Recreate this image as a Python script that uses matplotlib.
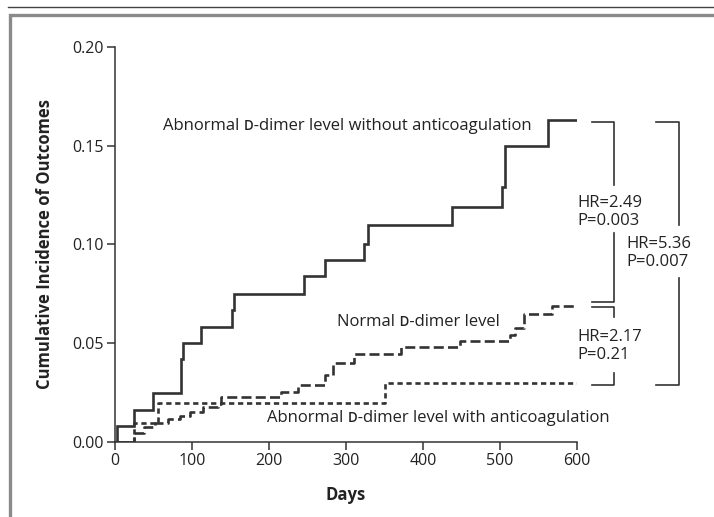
import numpy as np
import matplotlib
matplotlib.use('Agg')
import matplotlib.pyplot as plt
from matplotlib.lines import Line2D

plt.rcParams['font.family'] = ['Open Sans', 'DejaVu Sans']

# courbes (jours, incidence cumulee)
jours_sans = [0, 2, 25, 49, 86, 88, 111, 152, 154, 245, 273, 323, 328, 437, 503, 506, 562, 600]
incid_sans = [0, .008, .016, .025, .042, .050, .058, .067, .075, .084, .092, .100, .110,
              .119, .129, .150, .163, .163]

jours_normal = [0, 24, 38, 52, 69, 84, 97, 114, 134, 137, 216, 238, 273, 283, 310, 372,
                448, 513, 519, 531, 567, 600]
incid_normal = [0, .0046, .0077, .0098, .0115, .0132, .0154, .0176, .0192, .0230, .0255,
                .0288, .0340, .0398, .0445, .0480, .0510, .0540, .0575, .0650, .0688, .0688]

jours_avec = [0, 24, 56, 351, 600]
incid_avec = [0, .0098, .0196, .0300, .0300]

xticks = [0, 100, 200, 300, 400, 500, 600]
yticks = [0.00, 0.05, 0.10, 0.15, 0.20]

# crochets : (x gauche, x droite, y haut, y bas, debut trou, fin trou)
crochets = [(620, 648, 0.1621, 0.0710, 0.1300, 0.1056),
            (620, 648, 0.0685, 0.0288, 0.0634, 0.0348),
            (703, 732, 0.1621, 0.0288, 0.1098, 0.0828)]
textes_hr = [(600, 0.1165, 'HR=2.49\nP=0.003'),
             (664, 0.0957, 'HR=5.36\nP=0.007'),
             (600, 0.0487, 'HR=2.17\nP=0.21')]

gris = '#333333'
noir = '#222222'

fig = plt.figure(figsize=(7.14, 5.17), dpi=100)
ax = fig.add_axes([0.1611, 0.1451, 0.6471, 0.7646])

ax.step(jours_sans, incid_sans, where='post', color=gris, lw=1.9, solid_joinstyle='miter')
ax.step(jours_normal, incid_normal, where='post', color=gris, lw=1.9,
        linestyle=(0, (3.8, 1.6)))
ax.step(jours_avec, incid_avec, where='post', color=gris, lw=1.9,
        linestyle=(0, (2.0, 1.4)))

ax.set_xlim(0, 600)
ax.set_ylim(0, 0.20)
ax.set_xticks(xticks)
ax.set_yticks(yticks)
ax.set_yticklabels(['%.2f' % v for v in yticks])
for s in ['top', 'right']:
    ax.spines[s].set_visible(False)
for s in ['left', 'bottom']:
    ax.spines[s].set_color(gris)
    ax.spines[s].set_linewidth(1.1)
ax.tick_params(direction='out', length=6, width=1.1, color=gris, labelcolor=noir,
               labelsize=11.5, pad=2)
ax.set_xlabel('Days', fontsize=12, fontweight='bold', color=noir, labelpad=12)
ax.set_ylabel('Cumulative Incidence of Outcomes', fontsize=12, fontweight='bold',
              color=noir, labelpad=13)

ax.text(62, 0.160, 'Abnormal \u1d05-dimer level without anticoagulation', fontsize=12,
        color=noir, va='center')
ax.text(288, 0.0609, 'Normal \u1d05-dimer level', fontsize=12, color=noir, va='center')
ax.text(198, 0.012, 'Abnormal \u1d05-dimer level with anticoagulation', fontsize=12,
        color=noir, va='center', clip_on=False)

for x0, x1, yh, yb, t0, t1 in crochets:
    ax.plot([x0, x1, x1], [yh, yh, t0], color=gris, lw=1.2, clip_on=False)
    ax.plot([x1, x1, x0], [t1, yb, yb], color=gris, lw=1.2, clip_on=False)
for x, y, t in textes_hr:
    ax.text(x, y, t, fontsize=12, color=noir, va='center', linespacing=1.2,
            clip_on=False)

# cadre de la figure
fig.add_artist(Line2D([8 / 714, 1], [1 - 7 / 517, 1 - 7 / 517], color='#444444', lw=1.0))
fig.add_artist(Line2D([10 / 714, 10 / 714, 1], [0, 1 - 15 / 517, 1 - 15 / 517],
                      color='#8a8a8a', lw=2.4, solid_joinstyle='miter'))

fig.savefig('out.png', dpi=100)
